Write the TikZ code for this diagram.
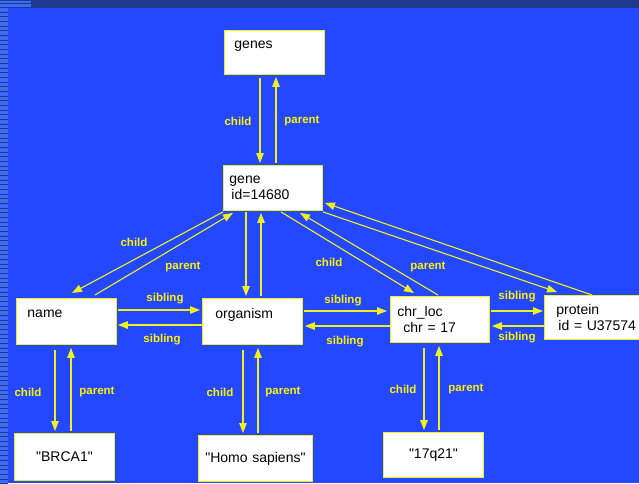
\documentclass[tikz,border=0pt]{standalone}
\usepackage{fontspec}
\setmainfont{Liberation Sans}[Ligatures=TeXOff]
\usetikzlibrary{arrows.meta,calc}
\definecolor{slideblue}{HTML}{2348FF}
\definecolor{slidedark}{HTML}{1D3A8E}
\definecolor{slidelight}{HTML}{3D6BF5}
\definecolor{linkyellow}{HTML}{F0F01E}

\begin{document}
\begin{tikzpicture}[x=1pt, y=-1pt,
  box/.style={draw=linkyellow, line width=0.9pt, fill=white, inner xsep=0pt, inner ysep=0pt,
              anchor=north west, font=\fontsize{14}{16}\selectfont},
  lbl/.style={text=yellow, inner sep=0pt, font=\fontsize{11.5}{12}\selectfont\bfseries},
  link/.style={draw=linkyellow, line width=1.1pt, -{Triangle[length=10pt,width=7.5pt]}}]
\useasboundingbox (0,0) rectangle (639,483);
\clip (0,0) rectangle (639,483);
% slide background
\fill[slideblue] (0,0) rectangle (639,483);
\fill[slidedark] (0,0) rectangle (639,7.5);
\fill[slidelight] (0,0.8) rectangle (31,7);
\fill[slidedark] (0,2.6) rectangle (31,3.3);
\fill[slidelight] (0,7.5) rectangle (8,483);
\foreach \k in {0,...,101}
  \fill[slidedark] (0,{11.5+4.67*\k}) rectangle (8,{12.3+4.67*\k});

% element boxes
\node[box, align=left, text width=100pt, minimum height=44pt] (genes) at (224,30) {\hspace*{10pt}genes\\\mbox{}};
\node[box, align=left, text width=99pt, minimum height=45pt] (gene) at (223,165) {\hspace*{6pt}gene\\\hspace*{8pt}id=14680};
\node[box, align=left, text width=100pt, minimum height=46pt] (name) at (16,298) {\hspace*{11pt}name\\\mbox{}};
\node[box, align=left, text width=100pt, minimum height=46pt] (organism) at (202,298) {\hspace*{13pt}organism\\\mbox{}};
\node[box, align=left, text width=99pt, minimum height=46pt] (chrloc) at (390,296) {\hspace*{7pt}chr\_loc\\\hspace*{13pt}chr = 17};
\node[box, align=left, text width=100pt, minimum height=44pt] (protein) at (544,295) {\hspace*{12pt}protein\\\hspace*{14pt}id = U37574};
\node[box, align=center, text width=100pt, minimum height=47pt] (brca) at (14,433) {"BRCA1"};
\node[box, align=center, text width=114pt, minimum height=46pt] (homo) at (198,435) {"Homo sapiens"};
\node[box, align=center, text width=100pt, minimum height=45pt] (locus) at (383,432) {"17q21"};

% genes <-> gene
\draw[link] ($(genes.south west)+(36,3)$) -- ($(gene.north west)+(37,-2)$);
\draw[link] ($(gene.north west)+(53,-2)$) -- ($(genes.south west)+(52,2)$);
\node[lbl] (c1) at (238,121) {child};
\node[lbl] (p1) at (302,121) {parent};

% gene <-> children
\draw[link] ($(gene.south west)+(0,1)$) -- ($(name.north west)+(56,-5)$);
\draw[link] ($(name.north west)+(79,-3)$) -- ($(gene.south west)+(10,2)$);
\draw[link] ($(gene.south west)+(23,1)$) -- ($(organism.north west)+(44,-2)$);
\draw[link] ($(organism.north west)+(59,-2)$) -- ($(gene.south west)+(38,2)$);
\draw[link] ($(gene.south west)+(58,1)$) -- ($(chrloc.north west)+(24,-3)$);
\draw[link] ($(chrloc.north west)+(48,-1)$) -- ($(gene.south west)+(77,2)$);
\draw[link] ($(gene.south east)+(0,1)$) -- ($(protein.north west)+(13,-3)$);
\draw[link] ($(protein.north west)+(48,0)$) -- ($(gene.south east)+(2,-8)$);
\node[lbl] (c2) at (134,242) {child};
\node[lbl] (p2) at (183,267) {parent};
\node[lbl] (c3) at (329,262) {child};
\node[lbl] (p3) at (428,267) {parent};

% siblings
\draw[link] ($(name.north east)+(1,12)$) -- ($(organism.north west)+(-2,12)$);
\draw[link] ($(organism.north west)+(0,27)$) -- ($(name.north east)+(1,27)$);
\draw[link] ($(organism.north east)+(1,13)$) -- ($(chrloc.north west)+(-3,15)$);
\draw[link] ($(chrloc.north west)+(0,30)$) -- ($(organism.north east)+(2,28)$);
\draw[link] ($(chrloc.north east)+(1,15)$) -- ($(protein.north west)+(-1,16)$);
\draw[link] ($(protein.north west)+(0,31)$) -- ($(chrloc.north east)+(2,30)$);
\node[lbl] (s1) at (165,299) {sibling};
\node[lbl] (s2) at (162,340) {sibling};
\node[lbl] (s3) at (343,301) {sibling};
\node[lbl] (s4) at (345,342) {sibling};
\node[lbl] (s5) at (517,297) {sibling};
\node[lbl] (s6) at (517,338) {sibling};

% values
\draw[link] ($(name.south west)+(39,5)$) -- ($(brca.north west)+(41,-2)$);
\draw[link] ($(brca.north west)+(57,-2)$) -- ($(name.south west)+(55,3)$);
\draw[link] ($(organism.south west)+(41,5)$) -- ($(homo.north west)+(45,-2)$);
\draw[link] ($(homo.north west)+(60,-2)$) -- ($(organism.south west)+(56,3)$);
\draw[link] ($(chrloc.south west)+(34,5)$) -- ($(locus.north west)+(41,-2)$);
\draw[link] ($(locus.north west)+(56,-2)$) -- ($(chrloc.south west)+(49,3)$);
\node[lbl] (c4) at (28,392) {child};
\node[lbl] (p4) at (97,392) {parent};
\node[lbl] (c5) at (220,392) {child};
\node[lbl] (p5) at (283,392) {parent};
\node[lbl] (c6) at (403,389) {child};
\node[lbl] (p6) at (466,389) {parent};
\end{tikzpicture}
\end{document}
